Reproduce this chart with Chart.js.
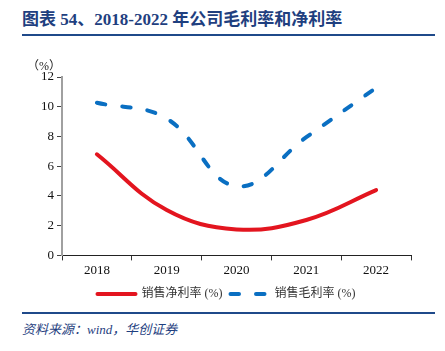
<!DOCTYPE html>
<html>
<head>
<meta charset="utf-8">
<script src="https://cdn.jsdelivr.net/npm/chart.js@4/dist/chart.umd.min.js"></script>
<style>
	body { margin: 0; background: #fff; }
	#page { position: relative; width: 445px; height: 351px; overflow: hidden; }
	#title { position: absolute; left: 22px; top: 5px; font: bold 17px "Liberation Serif", "Noto Sans CJK SC"; color: #1f3f7f; white-space: nowrap; }
	.rule { position: absolute; left: 22px; width: 413px; height: 2px; background: #1f4a8a; }
	#source { position: absolute; left: 22px; top: 319px; font: italic 13px "Liberation Serif", "Noto Sans CJK SC"; color: #1f3f7f; white-space: nowrap; }
	#chart-box { position: absolute; left: 0; top: 40px; width: 445px; height: 270px; }
</style>
</head>
<body>
<div id="page">
	<div id="title">图表 54、2018-2022 年公司毛利率和净利率</div>
	<div class="rule" style="top:34px"></div>
	<div id="chart-box"><canvas id="chart"></canvas></div>
	<div class="rule" style="top:312px"></div>
	<div id="source">资料来源：wind，华创证券</div>
</div>
<script>
const years = ['2018', '2019', '2020', '2021', '2022'];
const netMargin = [6.8, 3.05, 1.75, 2.38, 4.39];
const grossMargin = [10.27, 9.2, 4.65, 7.95, 11.27];
const yMin = 0;
const yMax = 12;
const yStep = 2;

const unitLabel = {
	id: 'unitLabel',
	afterDraw(chart) {
		const y = chart.scales.y;
		const ctx = chart.ctx;
		ctx.save();
		ctx.font = '12px "Liberation Serif", "Noto Sans CJK SC"';
		ctx.fillStyle = '#222';
		ctx.textAlign = 'right';
		ctx.textBaseline = 'middle';
		ctx.fillText('（%）', y.right - 1, y.top - 10);
		ctx.restore();
	}
};

function legendLabels(chart) {
	const items = Chart.defaults.plugins.legend.labels.generateLabels(chart);
	items.forEach(item => {
		const ds = chart.data.datasets[item.datasetIndex];
		item.lineDash = ds.borderDash || [];
		item.lineCap = 'round';
		item.lineWidth = 4;
		item.strokeStyle = ds.borderColor;
	});
	return items;
}

function init() {
	const config = {
		type: 'line',
		data: {
			labels: years,
			datasets: [
				{
					label: '销售净利率 (%)',
					data: netMargin,
					borderColor: '#e3151f',
					backgroundColor: '#e3151f',
					borderWidth: 4,
					borderCapStyle: 'round',
					tension: 0.4,
					pointRadius: 0
				},
				{
					label: '销售毛利率 (%)',
					data: grossMargin,
					borderColor: '#0a6fc2',
					backgroundColor: '#0a6fc2',
					borderWidth: 4,
					borderDash: [8.5, 17],
					borderCapStyle: 'round',
					tension: 0.4,
					pointRadius: 0
				}
			]
		},
		options: {
			responsive: false,
			animation: false,
			layout: { padding: { left: 8, right: 0, top: 37, bottom: 0 } },
			plugins: {
				tooltip: { enabled: false },
				legend: {
					position: 'bottom',
					labels: {
						usePointStyle: true,
						pointStyle: 'line',
						pointStyleWidth: 38,
						boxHeight: 12,
						padding: 8,
						color: '#333',
						font: { family: '"Liberation Serif", "Noto Sans CJK SC"', size: 12 },
						generateLabels: legendLabels
					}
				}
			},
			scales: {
				x: {
					offset: true,
					grid: { offset: true, drawOnChartArea: false, tickLength: 5, color: '#333' },
					border: { color: '#222', width: 1 },
					ticks: { color: '#111', padding: 2, font: { family: '"Liberation Serif"', size: 13 } }
				},
				y: {
					min: yMin,
					max: yMax,
					afterFit: scale => { scale.width = 54; },
					grid: { drawOnChartArea: false, tickLength: 5, color: '#444' },
					border: { color: '#a0a0a0', width: 2 },
					ticks: { stepSize: yStep, color: '#111', padding: 3, font: { family: '"Liberation Serif"', size: 13 } }
				},
				pad: {
					position: 'right',
					afterFit: scale => { scale.width = 34; },
					grid: { display: false },
					border: { display: false },
					ticks: { display: false }
				}
			}
		},
		plugins: [unitLabel]
	};
	const canvas = document.getElementById('chart');
	canvas.width = 445;
	canvas.height = 270;
	new Chart(canvas, config);
}

init();
</script>
</body>
</html>
